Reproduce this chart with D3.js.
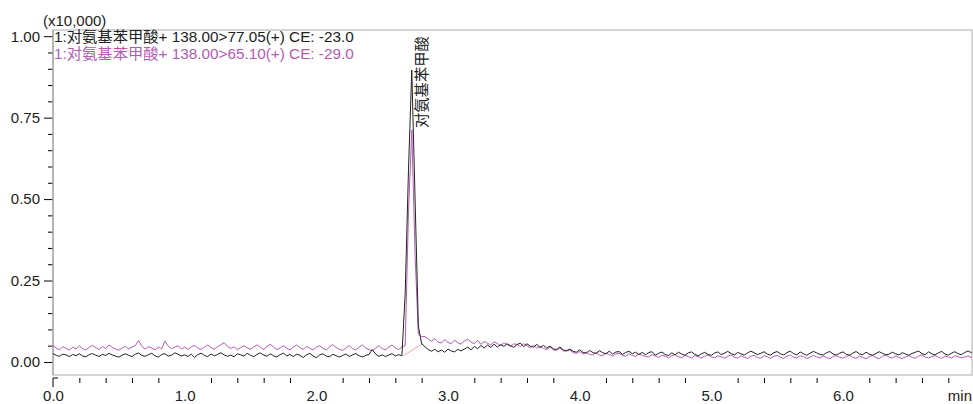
<!DOCTYPE html>
<html>
<head>
<meta charset="utf-8">
<script src="https://cdn.jsdelivr.net/npm/d3@7"></script>
<style>
  body { margin: 0; background: #fff; }
  text { font-family: Arial, "Liberation Sans", "Noto Sans CJK SC", sans-serif; }
</style>
</head>
<body>
<script>
"use strict"

// sampling of the trace, minutes
const step = 0.025;

// intensity in counts (axis shows x10,000)
const trace77 = [
  260, 200, 175, 240, 215, 165, 230, 195, 250, 185, 160, 225, 260, 205, 170, 235, 200, 265, 215, 180, 150,
  210, 250, 205, 165, 240, 275, 200, 175, 225, 265, 190, 150, 230, 255, 180, 205, 280, 235, 185, 220,
  170, 240, 140, 225, 270, 200, 165, 245, 190, 230, 285, 215, 175, 210, 160, 250, 220, 180, 265, 205,
  160, 235, 280, 210, 175, 250, 190, 155, 225, 270, 185, 230, 165, 240, 205, 135, 220, 265, 185, 130,
  215, 250, 180, 160, 235, 195, 150, 200, 245, 170, 215, 260, 190, 155, 200, 230, 380, 240, 175, 220,
  165, 215, 255, 185, 225, 190,
  2100, 5900, 8960, 5000, 1100, 560,
  470, 380, 330, 390, 310, 365, 300, 395, 335, 310, 385, 340,
  400, 455, 370, 480, 410, 505, 430, 520, 445, 545, 460, 530, 480, 560, 495, 450,
  535, 580, 470, 560, 485, 455, 540, 440, 510, 425, 490, 400, 385, 460, 370, 350,
  395, 330, 300, 375, 295, 270, 355, 290, 260, 345, 285, 250, 330, 245, 305, 320, 235, 290, 330, 250, 300, 230, 295, 220,
  290, 315, 210, 265, 305, 225, 200, 280, 220, 300, 245, 205, 280, 310, 235, 190, 250, 295, 230, 205,
  275, 310, 225, 270, 325, 260, 215, 295, 250, 210, 280, 330, 285, 225, 265, 315, 240, 210, 285, 320,
  250, 215, 290, 330, 255, 220, 305, 250, 205, 270, 325, 280, 230, 215, 285, 320, 245, 210, 270, 310,
  235, 205, 275, 320, 250, 220, 300, 240, 205, 260, 315, 265, 220, 240, 300, 250, 215, 285, 245, 205,
  260, 300, 335, 255, 225, 310, 250, 215, 280, 325, 240, 210, 270, 315, 250, 225, 290, 340, 285, 320
];

const trace65 = [
  520, 420, 380, 470, 415, 365, 455, 400, 490, 410, 370, 450, 510, 440, 380, 475, 410, 520, 450, 395, 360,
  430, 485, 400, 455, 500, 660, 480, 390, 470, 425, 370, 460, 405, 640, 490, 410, 455, 495, 400, 450,
  385, 465, 505, 430, 380, 455, 520, 440, 395, 470, 530, 590, 480, 415, 465, 375, 440, 500, 430, 390,
  460, 525, 450, 385, 470, 545, 460, 375, 430, 500, 425, 365, 455, 520, 440, 385, 475, 420, 370, 450,
  500, 420, 365, 460, 530, 445, 385, 355, 430, 505, 410, 370, 455, 520, 430, 380, 350, 425, 500, 410,
  370, 455, 520, 430, 380, 460,
  500, 4600, 7120, 3300, 850, 780,
  780, 700, 640, 720, 610, 580, 690, 600, 560, 670, 590, 545,
  650, 700, 610, 560, 660, 540, 630, 575, 520, 620, 565, 500, 590, 530, 480, 555,
  540, 470, 560, 500, 440, 510, 420, 485, 410, 380, 465, 370, 355, 430, 340, 330,
  370, 290, 265, 320, 240, 300, 230, 215, 290, 210, 195, 270, 225, 180, 245, 270, 205, 175, 250, 200, 170, 240, 205, 165,
  160, 225, 185, 140, 210, 175, 135, 195, 220, 160, 130, 205, 165, 125, 195, 160, 120, 185, 215, 150,
  130, 190, 160, 115, 180, 215, 145, 120, 190, 150, 105, 175, 205, 140, 115, 190, 160, 110, 175, 200,
  145, 110, 180, 210, 150, 120, 190, 165, 105, 150, 200, 160, 120, 185, 140, 100, 170, 195, 140, 115,
  170, 205, 145, 110, 185, 140, 100, 160, 200, 130, 105, 175, 210, 150, 120, 185, 140, 100, 160, 195,
  140, 110, 180, 215, 150, 125, 165, 200, 140, 110, 180, 155, 120, 190, 160, 125, 155, 185, 140, 170
];

// integration baseline under the peak [min, counts]
const peakBase = [[2.66, 190], [2.81, 570]];

const legendLabels = [
  "1:对氨基苯甲酸+ 138.00>77.05(+) CE: -23.0",
  "1:对氨基苯甲酸+ 138.00>65.10(+) CE: -29.0"
];
const peakName = "对氨基苯甲酸";
const peakTime = 2.725;

const xMajor = [0, 1, 2, 3, 4, 5, 6];
const xTickLabels = ["0.0", "1.0", "2.0", "3.0", "4.0", "5.0", "6.0"];
const yMajor = [0, 2500, 5000, 7500, 10000];
const yTickLabels = ["0.00", "0.25", "0.50", "0.75", "1.00"];

const w = 973;
const h = 404;
const plotL = 53, plotR = 972, plotT = 30, plotB = 375;
const black = "#222";
const purple = "#b35bb3";

const x = d3.scaleLinear().domain([0, 6.98]).range([plotL, plotR]);
const y = d3.scaleLinear().domain([-400, 10190]).range([plotB, plotT]);

const svg = d3.select("body").append("svg")
  .attr("width", w)
  .attr("height", h);

svg.append("clipPath").attr("id", "clip")
  .append("rect")
  .attr("x", plotL).attr("y", plotT)
  .attr("width", plotR - plotL).attr("height", plotB - plotT);

// frame
svg.append("rect")
  .attr("x", plotL).attr("y", plotT)
  .attr("width", plotR - plotL).attr("height", plotB - plotT)
  .attr("fill", "none")
  .attr("stroke", "#c8c8c8")
  .attr("stroke-width", 1.5);

// y axis
const yMinor = d3.range(0, 10001, 500).filter(v => v % 2500 !== 0);
svg.append("g")
  .attr("transform", "translate(" + plotL + ",0)")
  .call(d3.axisLeft(y).tickValues(yMinor).tickSize(5).tickFormat(""))
  .call(g => g.select(".domain").remove());
svg.append("g")
  .attr("transform", "translate(" + plotL + ",0)")
  .call(d3.axisLeft(y).tickValues(yMajor).tickSize(9).tickPadding(4)
    .tickFormat((d, i) => yTickLabels[i]))
  .call(g => g.select(".domain").remove())
  .call(g => g.selectAll("text").attr("font-size", 15).attr("fill", "#222")
    .attr("font-family", "Arial, 'Liberation Sans', sans-serif"));

svg.append("line")
  .attr("x1", plotL).attr("x2", plotL)
  .attr("y1", plotT).attr("y2", plotB)
  .attr("stroke", "#aaa")
  .attr("stroke-width", 1.5);

// x axis
const xAxisY = 378;
const xMinor = d3.range(1, 35).map(i => i * 0.2).filter(v => Math.abs(v - Math.round(v)) > 0.01);
svg.append("g")
  .attr("transform", "translate(0," + xAxisY + ")")
  .call(d3.axisBottom(x).tickValues(xMinor).tickSize(5).tickFormat(""))
  .call(g => g.select(".domain").remove());
svg.append("g")
  .attr("transform", "translate(0," + xAxisY + ")")
  .call(d3.axisBottom(x).tickValues(xMajor).tickSize(0).tickPadding(12)
    .tickFormat((d, i) => xTickLabels[i]))
  .call(g => g.select(".domain").remove())
  .call(g => g.selectAll("text").attr("font-size", 15).attr("fill", "#222")
    .attr("font-family", "Arial, 'Liberation Sans', sans-serif"));

svg.append("path")
  .attr("d", "M" + (x(0) + 5) + "," + xAxisY + "H" + x(0) + "V" + (xAxisY + 9))
  .attr("fill", "none")
  .attr("stroke", "#000");

svg.append("text")
  .attr("x", plotR)
  .attr("y", 401)
  .attr("text-anchor", "end")
  .attr("font-size", 15)
  .attr("fill", "#222")
  .text("min");

svg.append("text")
  .attr("x", 43)
  .attr("y", 26)
  .attr("font-size", 15)
  .attr("fill", "#222")
  .text("(x10,000)");

// traces
const line = d3.line()
  .x((d, i) => x(i * step))
  .y(d => y(d));

const plot = svg.append("g").attr("clip-path", "url(#clip)");

plot.append("path")
  .datum(peakBase)
  .attr("d", d3.line().x(d => x(d[0])).y(d => y(d[1])))
  .attr("fill", "none")
  .attr("stroke", "#f2a6a6")
  .attr("stroke-width", 1);

plot.append("path")
  .datum(trace65)
  .attr("d", line)
  .attr("fill", "none")
  .attr("stroke", purple)
  .attr("stroke-width", 1);

plot.append("path")
  .datum(trace77)
  .attr("d", line)
  .attr("fill", "none")
  .attr("stroke", black)
  .attr("stroke-width", 1);

// legend
svg.selectAll(".legend")
  .data(legendLabels)
  .enter()
  .append("text")
  .attr("class", "legend")
  .attr("x", 54)
  .attr("y", (d, i) => 42 + i * 16.5)
  .attr("font-size", 15.3)
  .attr("fill", (d, i) => i === 0 ? black : purple)
  .text(d => d);

// peak label
svg.append("text")
  .attr("transform", "translate(" + (x(peakTime) + 15) + ",128) rotate(-90)")
  .attr("font-size", 15.3)
  .attr("fill", black)
  .text(peakName);
</script>
</body>
</html>
